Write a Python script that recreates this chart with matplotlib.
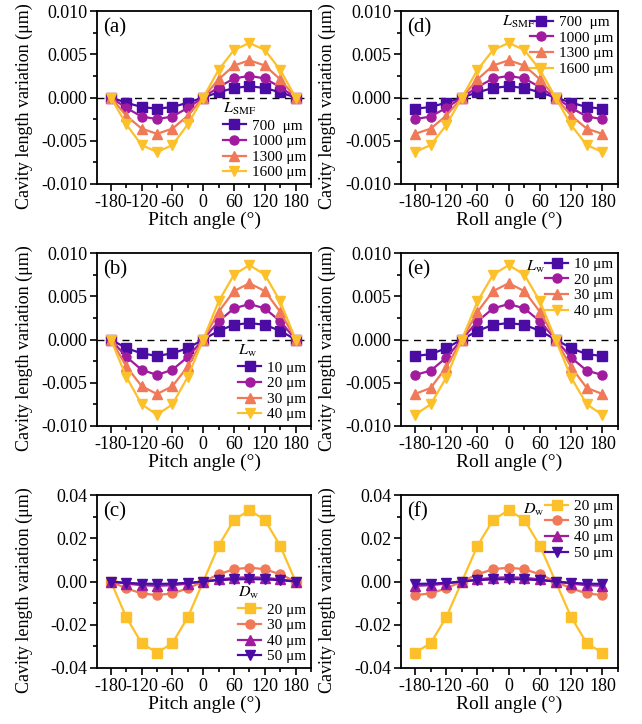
import numpy as np
import matplotlib
matplotlib.use('Agg')
import matplotlib.pyplot as plt
from matplotlib.ticker import MultipleLocator, FormatStrFormatter

plt.rcParams['font.family'] = ['Liberation Serif', 'DejaVu Serif']
plt.rcParams['mathtext.fontset'] = 'stix'
plt.rcParams['axes.unicode_minus'] = False

# angle in degrees, same for all panels
angle = [-180, -150, -120, -90, -60, -30, 0, 30, 60, 90, 120, 150, 180]

# (a) pitch, L_SMF
lsmf_labels = ['700  μm', '1000 μm', '1300 μm', '1600 μm']
pitch_lsmf = [
    [0, -0.0006, -0.0011, -0.0013, -0.0011, -0.0006, 0, 0.0006, 0.0011, 0.0013, 0.0011, 0.0006, 0],
    [0, -0.0012, -0.0022, -0.0025, -0.0022, -0.0012, 0, 0.0012, 0.0022, 0.0025, 0.0022, 0.0012, 0],
    [0, -0.0021, -0.0036, -0.0042, -0.0036, -0.0021, 0, 0.0021, 0.0037, 0.0043, 0.0037, 0.0021, 0],
    [0, -0.0031, -0.0055, -0.0063, -0.0055, -0.0031, 0, 0.0032, 0.0055, 0.0063, 0.0055, 0.0032, 0],
]
# (d) roll, L_SMF
roll_lsmf = [
    [-0.0013, -0.0011, -0.0006, 0, 0.0006, 0.0011, 0.0013, 0.0011, 0.0006, 0, -0.0006, -0.0011, -0.0013],
    [-0.0025, -0.0022, -0.0012, 0, 0.0012, 0.0022, 0.0025, 0.0022, 0.0012, 0, -0.0012, -0.0022, -0.0025],
    [-0.0042, -0.0036, -0.0021, 0, 0.0021, 0.0037, 0.0043, 0.0037, 0.0021, 0, -0.0021, -0.0036, -0.0042],
    [-0.0063, -0.0055, -0.0032, 0, 0.0032, 0.0055, 0.0063, 0.0055, 0.0032, 0, -0.0032, -0.0055, -0.0063],
]

# (b) pitch, L_w
lw_labels = ['10 μm', '20 μm', '30 μm', '40 μm']
pitch_lw = [
    [0, -0.0010, -0.0016, -0.0019, -0.0016, -0.0010, 0, 0.0010, 0.0017, 0.0019, 0.0017, 0.0010, 0],
    [0, -0.0020, -0.0035, -0.0041, -0.0035, -0.0020, 0, 0.0021, 0.0036, 0.0041, 0.0036, 0.0021, 0],
    [0, -0.0031, -0.0054, -0.0063, -0.0054, -0.0031, 0, 0.0032, 0.0056, 0.0065, 0.0056, 0.0032, 0],
    [0, -0.0043, -0.0075, -0.0087, -0.0075, -0.0043, 0, 0.0044, 0.0075, 0.0086, 0.0075, 0.0044, 0],
]
# (e) roll, L_w
roll_lw = [
    [-0.0019, -0.0017, -0.0010, 0, 0.0010, 0.0017, 0.0019, 0.0017, 0.0010, 0, -0.0010, -0.0017, -0.0019],
    [-0.0041, -0.0036, -0.0021, 0, 0.0021, 0.0036, 0.0041, 0.0036, 0.0021, 0, -0.0021, -0.0036, -0.0041],
    [-0.0063, -0.0056, -0.0032, 0, 0.0032, 0.0056, 0.0065, 0.0056, 0.0032, 0, -0.0032, -0.0056, -0.0063],
    [-0.0087, -0.0075, -0.0044, 0, 0.0044, 0.0075, 0.0086, 0.0075, 0.0044, 0, -0.0044, -0.0075, -0.0087],
]

# (c) pitch, D_w
dw_labels = ['20 μm', '30 μm', '40 μm', '50 μm']
pitch_dw = [
    [0, -0.0165, -0.0285, -0.0330, -0.0285, -0.0165, 0, 0.0165, 0.0285, 0.0330, 0.0285, 0.0165, 0],
    [0, -0.0032, -0.0055, -0.0063, -0.0055, -0.0032, 0, 0.0033, 0.0057, 0.0064, 0.0057, 0.0033, 0],
    [0, -0.0010, -0.0017, -0.0020, -0.0017, -0.0010, 0, 0.0010, 0.0017, 0.0020, 0.0017, 0.0010, 0],
    [0, -0.0006, -0.0010, -0.0011, -0.0010, -0.0006, 0, 0.0006, 0.0010, 0.0011, 0.0010, 0.0006, 0],
]
# (f) roll, D_w
roll_dw = [
    [-0.0330, -0.0285, -0.0165, 0, 0.0165, 0.0285, 0.0330, 0.0285, 0.0165, 0, -0.0165, -0.0285, -0.0330],
    [-0.0063, -0.0055, -0.0032, 0, 0.0033, 0.0057, 0.0064, 0.0057, 0.0033, 0, -0.0032, -0.0055, -0.0063],
    [-0.0020, -0.0017, -0.0010, 0, 0.0010, 0.0017, 0.0020, 0.0017, 0.0010, 0, -0.0010, -0.0017, -0.0020],
    [-0.0011, -0.0010, -0.0006, 0, 0.0006, 0.0010, 0.0011, 0.0010, 0.0006, 0, -0.0006, -0.0010, -0.0011],
]

colors = ['#4b0ca3', '#a01b9e', '#f07a58', '#fcc12a']
markers = ['s', 'o', '^', 'v']

fig = plt.figure(figsize=(6.42, 7.24), dpi=100)

W, H = 642.0, 724.0
cols = [(97, 214), (401, 217)]
rows = [(11, 184), (253, 426), (495, 668)]


def make_ax(col, row):
    x0, w = cols[col]
    top, bot = rows[row]
    return fig.add_axes([x0 / W, 1 - bot / H, w / W, (bot - top) / H])


def style_ax(ax, lim, major, minor, fmt, xlabel, tag, zero_line=True):
    ax.set_xlim(-207, 210)
    ax.set_ylim(-lim, lim)
    ax.xaxis.set_major_locator(MultipleLocator(60))
    ax.xaxis.set_minor_locator(MultipleLocator(30))
    ax.yaxis.set_major_locator(MultipleLocator(major))
    ax.yaxis.set_minor_locator(MultipleLocator(minor))
    ax.yaxis.set_major_formatter(FormatStrFormatter(fmt))
    ax.tick_params(which='both', direction='out', top=False, right=False,
                   labelsize=13, width=1.2)
    ax.tick_params(which='major', length=5, pad=2)
    ax.tick_params(which='minor', length=3)
    for s in ax.spines.values():
        s.set_linewidth(1.3)
    if zero_line:
        ax.axhline(0, color='black', lw=1.0, ls=(0, (5, 4)), zorder=1)
    ax.set_xlabel(xlabel, fontsize=14, labelpad=1)
    ax.set_ylabel('Cavity length variation (μm)', fontsize=13)
    ax.yaxis.set_label_coords(-0.30, 0.45)
    ax.text(0.03, 0.96, tag, transform=ax.transAxes, fontsize=15, va='top', ha='left')


def plot_series(ax, data, labels, cols_):
    handles = []
    for i in range(4):
        h, = ax.plot(angle, data[i], color=cols_[i], marker=markers[i],
                     ms=6.5, lw=1.6, label=labels[i], zorder=3 + i)
        handles.append(h)
    return handles


def legend_below(ax, handles, title):
    leg = ax.legend(handles=handles, loc='lower right', frameon=False,
                    fontsize=11, title=title, title_fontsize=11.5,
                    handlelength=1.5, handletextpad=0.4, labelspacing=0.12,
                    borderaxespad=0.1, borderpad=0.2)
    leg._legend_box.align = 'left'


def legend_top(ax, handles, title, tx, ty):
    ax.legend(handles=handles, loc='upper right', frameon=False,
              fontsize=11, handlelength=1.5, handletextpad=0.4,
              labelspacing=0.12, borderaxespad=0.1, borderpad=0.2)
    ax.text(tx, ty, title, transform=ax.transAxes, fontsize=11.5, va='top', ha='left')


lsmf_title = r'$L_{\rm SMF}$'
lw_title = r'$L_{\rm w}$'
dw_title = r'$D_{\rm w}$'

# (a)
ax = make_ax(0, 0)
style_ax(ax, 0.010, 0.005, 0.0025, '%.3f', 'Pitch angle (°)', '(a)')
h = plot_series(ax, pitch_lsmf, lsmf_labels, colors)
legend_below(ax, h, lsmf_title)

# (d)
ax = make_ax(1, 0)
style_ax(ax, 0.010, 0.005, 0.0025, '%.3f', 'Roll angle (°)', '(d)')
h = plot_series(ax, roll_lsmf, lsmf_labels, colors)
legend_top(ax, h, lsmf_title, 0.465, 0.985)

# (b)
ax = make_ax(0, 1)
style_ax(ax, 0.010, 0.005, 0.0025, '%.3f', 'Pitch angle (°)', '(b)')
h = plot_series(ax, pitch_lw, lw_labels, colors)
legend_below(ax, h, lw_title)

# (e)
ax = make_ax(1, 1)
style_ax(ax, 0.010, 0.005, 0.0025, '%.3f', 'Roll angle (°)', '(e)')
h = plot_series(ax, roll_lw, lw_labels, colors)
legend_top(ax, h, lw_title, 0.575, 0.965)

# (c)
dw_colors = colors[::-1]
ax = make_ax(0, 2)
style_ax(ax, 0.04, 0.02, 0.01, '%.2f', 'Pitch angle (°)', '(c)', zero_line=False)
h = plot_series(ax, pitch_dw, dw_labels, dw_colors)
legend_below(ax, h, dw_title)

# (f)
ax = make_ax(1, 2)
style_ax(ax, 0.04, 0.02, 0.01, '%.2f', 'Roll angle (°)', '(f)', zero_line=False)
h = plot_series(ax, roll_dw, dw_labels, dw_colors)
legend_top(ax, h, dw_title, 0.56, 0.96)

fig.savefig('out.png', dpi=100)
